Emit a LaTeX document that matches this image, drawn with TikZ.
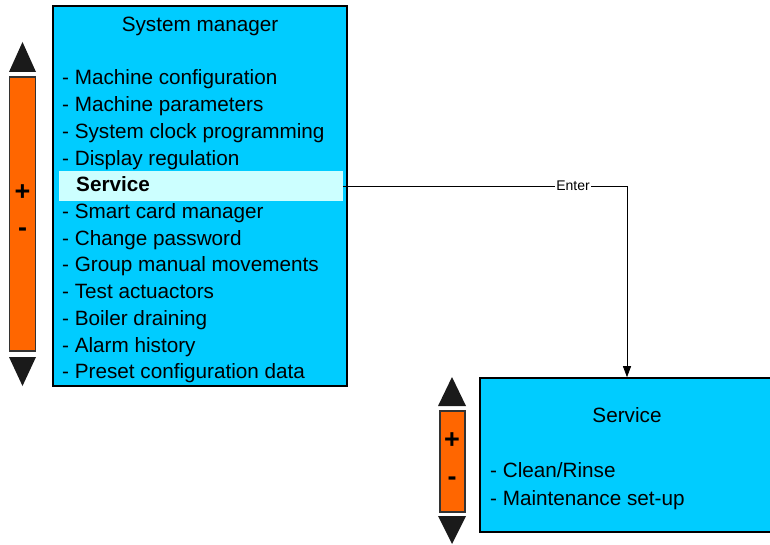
\documentclass[tikz,border=0pt]{standalone}
\usepackage{fontspec}
\setmainfont{Liberation Sans}
\usetikzlibrary{arrows.meta}
\definecolor{boxcyan}{HTML}{00CCFF}
\definecolor{hlcyan}{HTML}{CCFFFF}
\definecolor{barorange}{HTML}{FF6600}
\definecolor{tridark}{HTML}{1A1A1A}
\begin{document}
\begin{tikzpicture}[x=1pt,y=-1pt,
  menubox/.style={draw=black, line width=1.6pt, fill=boxcyan, inner sep=0pt},
  hlbox/.style={fill=hlcyan, inner sep=0pt},
  item/.style={anchor=base west, inner sep=0pt, font=\fontsize{20.7}{24}\selectfont},
  boxtitle/.style={anchor=base, inner sep=0pt, font=\fontsize{20.7}{24}\selectfont},
  bar/.style={draw=black!80, line width=1.2pt, fill=barorange},
  trishape/.style={fill=tridark},
  sign/.style={inner sep=0pt, font=\bfseries\fontsize{27}{29}\selectfont},
  conn/.style={line width=0.8pt, -{Triangle[length=11pt,width=8pt]}},
  connlabel/.style={fill=white, inner sep=1pt, font=\fontsize{14}{16}\selectfont}]
\useasboundingbox (0,0) rectangle (770,545);

% left scroll bar
\fill[trishape] (9,72) -- (22.5,42) -- (36,72) -- cycle;
\draw[bar] (9.5,77) rectangle (35.5,351);
\fill[trishape] (9,357) -- (22.5,386) -- (36,357) -- cycle;
\node[sign] (lplus) at (22.5,193) {+};
\node[sign] (lminus) at (22.5,232) {-};

% system manager box
\node[menubox, minimum width=294pt, minimum height=380pt] (sys) at (200,196) {};
\node[hlbox, minimum width=284pt, minimum height=30pt] (hl) at (201,186) {};
\node[boxtitle] (systitle) at (200,32) {System manager};
\node[item] (i1) at (62,85) {- Machine configuration};
\node[item] (i2) at (62,111.7) {- Machine parameters};
\node[item] (i3) at (62,138.4) {- System clock programming};
\node[item] (i4) at (62,165.1) {- Display regulation};
\node[item, font=\bfseries\fontsize{20.7}{24}\selectfont] (i5) at (76,191.8) {Service};
\node[item] (i6) at (62,218.5) {- Smart card manager};
\node[item] (i7) at (62,245.2) {- Change password};
\node[item] (i8) at (62,271.9) {- Group manual movements};
\node[item] (i9) at (62,298.6) {- Test actuactors};
\node[item] (i10) at (62,325.3) {- Boiler draining};
\node[item] (i11) at (62,352) {- Alarm history};
\node[item] (i12) at (62,378.7) {- Preset configuration data};

% right scroll bar
\fill[trishape] (438,406) -- (452,377) -- (466,406) -- cycle;
\draw[bar] (440,411) rectangle (465,512);
\fill[trishape] (438,516) -- (452,544) -- (466,516) -- cycle;
\node[sign] (rplus) at (452,441) {+};
\node[sign] (rminus) at (452,481) {-};

% service box
\node[menubox, minimum width=294pt, minimum height=154pt] (srv) at (627,455) {};
\node[boxtitle] (srvtitle) at (627,422) {Service};
\node[item] (s1) at (490,477) {- Clean/Rinse};
\node[item] (s2) at (490,505) {- Maintenance set-up};

% connector
\draw[conn] (hl.east) -| node[connlabel, pos=0.405] {Enter} (srv.north);
\end{tikzpicture}
\end{document}
